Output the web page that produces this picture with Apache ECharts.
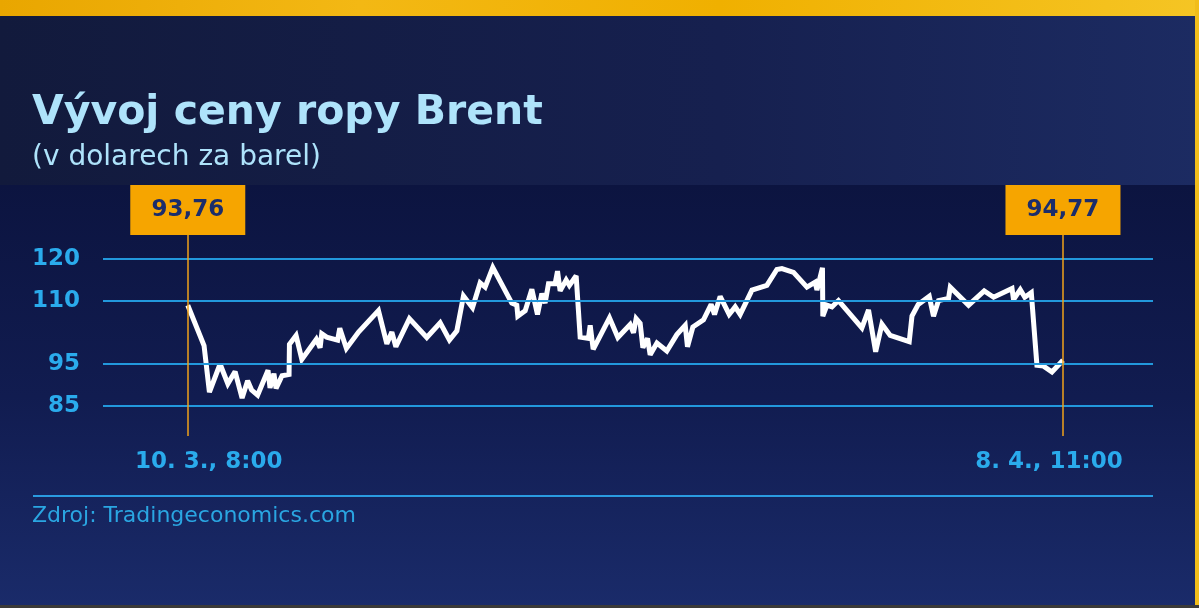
<!DOCTYPE html>
<html>
<head>
<meta charset="utf-8">
<script src="https://cdn.jsdelivr.net/npm/echarts@6/dist/echarts.min.js"></script>
<style>
html,body{margin:0;padding:0;background:#131b40;}
#c{width:1199px;height:608px;}
</style>
</head>
<body>
<div id="c"></div>
<script>
// hours since 10. 3., 8:00
const hours = [0,13.0,17.3,25.8,32.0,37.8,43.4,47.8,51.0,55.8,64.1,65.7,68.8,70.5,75.3,80.9,81.2,86.5,91.1,102.7,
105.7,107.0,110.9,119.7,121.4,126.7,136.4,152.3,159.0,163.0,166.2,177.0,190.9,201.6,209.0,214.9,220.2,227.4,233.5,237.5,
243.6,258.8,262.8,263.6,269.5,274.8,279.3,282.8,285.4,288.1,293.4,295.3,297.4,302.2,304.8,310.2,313.4,320.0,321.4,323.8,
336.8,343.5,353.3,356.0,358.1,361.3,363.5,367.2,369.3,374.7,382.6,390.6,397.3,399.1,403.4,411.9,418.0,420.7,425.2,432.4,
437.2,441.2,450.6,462.5,470.5,474.5,483.8,494.5,501.1,502.5,506.9,507.2,510.5,514.5,519.7,538.4,543.7,549.4,554.4,561.0,
576.2,578.4,583.4,592.2,595.6,599.6,607.6,609.0,623.6,636.1,643.6,658.3,659.5,664.9,668.5,673.7,678.2,683.5,690.2,699];
const prices = [109.0,99.4,88.3,95.0,90.3,93.2,86.9,91.0,88.8,87.6,93.5,89.3,92.7,89.2,92.2,92.5,99.7,101.8,96.1,100.9,
98.9,102.2,101.4,100.7,103.5,98.7,102.6,107.7,99.8,102.6,99.1,105.8,101.3,104.8,100.7,102.9,111.2,108.4,114.3,113.3,
118.0,109.5,109.0,106.4,107.7,112.8,106.8,111.8,109.5,114.1,114.1,117.1,112.4,115.0,113.7,116.0,101.4,101.1,104.2,98.5,
106.0,101.3,104.4,102.4,105.8,104.7,98.9,101.1,97.2,100.0,98.1,102.0,104.2,99.1,103.8,105.5,109.2,106.8,111.1,106.8,
108.6,106.8,112.6,113.7,117.5,117.7,116.8,113.3,114.5,112.6,117.9,106.4,109.0,108.6,110.1,103.6,107.9,97.9,104.5,101.8,
100.3,106.4,109.2,111.1,106.4,110.1,110.6,113.3,109.0,112.4,110.9,113.0,110.3,112.7,110.9,112.0,94.7,94.5,93.1,95.9];
const yTicks = [85, 95, 110, 120];
const xLabels = ['10. 3., 8:00', '8. 4., 11:00'];
const endValues = [93.76, 94.77];

const FONT = 'DejaVu Sans';
const LABEL_BLUE = '#2aabec';
const fmt = v => v.toFixed(2).replace('.', ',');

const chart = echarts.init(document.getElementById('c'), null, {renderer: 'canvas'});
const firstH = hours[0], lastH = hours[hours.length - 1];

const boxLabel = (txt) => ({
  show: true, position: 'end', distance: 0,
  formatter: txt,
  backgroundColor: '#f6a500',
  color: '#1b2d6b', fontFamily: FONT, fontWeight: 'bold', fontSize: 23,
  width: 115, height: 50, lineHeight: 50, align: 'center', padding: 0
});

chart.setOption({
  backgroundColor: 'transparent',
  animation: false,
  graphic: [
    {type: 'rect', z: -10, shape: {x: 0, y: 0, width: 1199, height: 608},
      style: {fill: new echarts.graphic.LinearGradient(0, 0, 1, 0, [
        {offset: 0, color: '#121a3c'}, {offset: 0.6, color: '#16204f'}, {offset: 1, color: '#1c2b62'}])}},
    {type: 'rect', z: -9, shape: {x: 0, y: 185, width: 1195, height: 423},
      style: {fill: new echarts.graphic.LinearGradient(0, 0, 0, 1, [
        {offset: 0, color: '#0c1440'}, {offset: 0.5, color: '#111c50'}, {offset: 1, color: '#1a2b6a'}])}},
    {type: 'rect', z: -8, shape: {x: 0, y: 0, width: 1199, height: 16},
      style: {fill: new echarts.graphic.LinearGradient(0, 0, 1, 0, [
        {offset: 0, color: '#e9a600'}, {offset: 0.3, color: '#f3b814'}, {offset: 0.6, color: '#f0b000'}, {offset: 1, color: '#f5c524'}])}},
    {type: 'rect', z: -8, shape: {x: 1195, y: 0, width: 4, height: 608}, style: {fill: '#f2bd1a'}},
    {type: 'rect', z: -8, shape: {x: 0, y: 605, width: 1199, height: 3}, style: {fill: '#3b3a38'}},
    {type: 'line', z: 1, shape: {x1: 33, y1: 496, x2: 1153, y2: 496}, style: {stroke: '#2a9be0', lineWidth: 2}},
    {type: 'text', z: 1, left: 32, top: 505,
      style: {text: 'Zdroj: Tradingeconomics.com', fill: '#2aa6e2', font: '22px "' + FONT + '"'}}
  ],
  title: {
    text: 'Vývoj ceny ropy Brent',
    subtext: '(v dolarech za barel)',
    left: 32, top: 93, itemGap: 10, padding: 0,
    textStyle: {color: '#aee3fb', fontFamily: FONT, fontWeight: 'bold', fontSize: 41},
    subtextStyle: {color: '#aee3fb', fontFamily: FONT, fontSize: 28}
  },
  grid: {left: 103, right: 46, top: 235, bottom: 172, containLabel: false},
  xAxis: {
    type: 'value', min: -67.7, max: 770.9,
    axisLine: {show: false}, axisTick: {show: false}, splitLine: {show: false},
    axisLabel: {
      customValues: [firstH, lastH], margin: 15,
      color: LABEL_BLUE, fontFamily: FONT, fontWeight: 'bold', fontSize: 23,
      formatter: v => v === firstH ? '{a|' + xLabels[0] + '}' : '{b|' + xLabels[1] + '}',
      rich: {
        a: {color: LABEL_BLUE, fontFamily: FONT, fontWeight: 'bold', fontSize: 23, padding: [0, 0, 0, 42]},
        b: {color: LABEL_BLUE, fontFamily: FONT, fontWeight: 'bold', fontSize: 23, padding: [0, 28, 0, 0]}
      }
    }
  },
  yAxis: {
    type: 'value', min: 77.86, max: 125.71,
    axisLine: {show: false}, axisTick: {show: false}, splitLine: {show: false},
    axisLabel: {
      customValues: yTicks, margin: 23,
      color: LABEL_BLUE, fontFamily: FONT, fontWeight: 'bold', fontSize: 23
    }
  },
  series: [
    {
      type: 'line', data: [], z: 1, silent: true,
      markLine: {
        silent: true, symbol: ['none', 'none'], animation: false,
        data: yTicks.map(v => ({yAxis: v, lineStyle: {color: '#2298dc', width: 2, type: 'solid'}, label: {show: false}}))
          .concat([
            {xAxis: firstH, lineStyle: {color: '#f0a21a', width: 1.5, type: 'solid'}, label: boxLabel(fmt(endValues[0]))},
            {xAxis: lastH, lineStyle: {color: '#f0a21a', width: 1.5, type: 'solid'}, label: boxLabel(fmt(endValues[1]))}
          ])
      }
    },
    {
      type: 'line', z: 3,
      data: hours.map((h, i) => [h, prices[i]]),
      showSymbol: false, symbol: 'none',
      lineStyle: {color: '#ffffff', width: 5, join: 'miter', miterLimit: 2.5, cap: 'butt'}
    }
  ]
});
</script>
</body>
</html>
